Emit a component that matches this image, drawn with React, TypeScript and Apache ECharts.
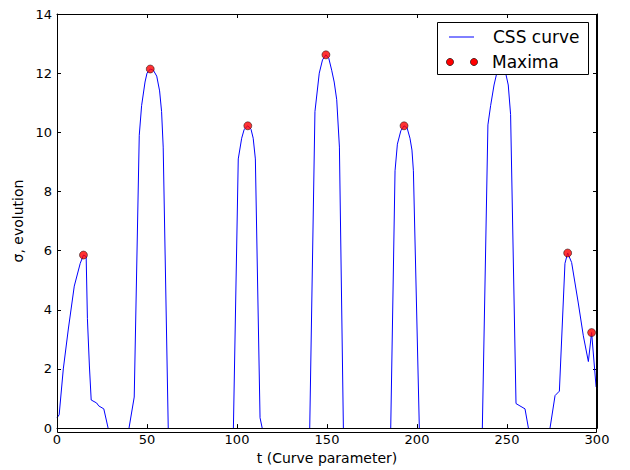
import React, { useEffect, useRef } from "react";
import * as echarts from "echarts";

// Curve parameter t and CSS evolution sigma (null = curve below zero / gap)
const tValues: number[] = [
  0, 1.2, 3.5, 6.3, 9.6, 12.9, 14.7, 16.2, 16.9, 18, 19, 22, 23.2, 26, 28.4, 34,
  40, 42.9, 45.7, 47, 48.9, 50, 51.8, 53.5, 55.4, 57, 58.1, 59, 61.8, 80,
  98, 100.7, 102.6, 104, 106, 107.8, 109, 110.2, 112.8, 114, 127,
  140.4, 143.3, 145.7, 147.5, 149.4, 151, 152.6, 154, 155.4, 156.9, 159.1, 172,
  185.4, 187.8, 189.1, 191, 192.8, 194.5, 196.1, 197.2, 198, 201.3, 218,
  236.3, 239.4, 240.9, 242.8, 244.5, 246.5, 247.8, 248.9, 250.7, 252, 255, 257.2, 260, 261.9, 268,
  273.9, 276.7, 279.1, 282.2, 283.7, 285.9, 289.6, 292.4, 295.2, 297, 299.5, 300,
];
const sigmaValues: (number | null)[] = [
  0.35, 0.45, 2.0, 3.35, 4.8, 5.57, 5.85, 5.8, 3.7, 2.1, 0.95, 0.85, 0.75, 0.65, 0, null,
  0, 1.05, 9.9, 10.9, 11.7, 12.0, 12.14, 12.1, 11.9, 11.4, 10.7, 9.5, 0, null,
  0, 9.1, 9.8, 10.1, 10.22, 10.1, 9.8, 9.1, 0.35, 0, null,
  0, 10.7, 12.0, 12.45, 12.62, 12.5, 12.1, 11.7, 11.1, 9.5, 0, null,
  0, 8.7, 9.6, 10.05, 10.22, 10.15, 9.8, 9.4, 8.7, 0, null,
  0, 10.25, 10.9, 11.6, 12.05, 12.25, 12.2, 12.1, 11.6, 10.6, 0.83, 0.75, 0.65, 0, null,
  0, 1.1, 1.25, 5.57, 5.92, 5.6, 4.23, 3.12, 2.25, 3.23, 1.39, 1.35,
];

// Local maxima
const maximaT: number[] = [14.7, 51.8, 106, 149.4, 192.8, 246.5, 283.7, 297];
const maximaSigma: number[] = [5.85, 12.14, 10.22, 12.62, 10.22, 12.25, 5.92, 3.23];

const curveName = "CSS curve";
const maximaName = "Maxima";
const xLabel = "t (Curve parameter)";
const yLabel = "σ, evolution";

const FONT = "DejaVu Sans";
const GRID = { left: 57, right: 33, top: 14, bottom: 37 };
const W = 630;
const H = 470;

export default function App() {
  const ref = useRef<HTMLDivElement>(null);
  useEffect(() => {
    if (!ref.current) return;
    const chart = echarts.init(ref.current, undefined, { renderer: "svg" });
    const curve = tValues.map((t, i) => [t, sigmaValues[i]]);
    const maxima = maximaT.map((t, i) => [t, maximaSigma[i]]);
    const axisLine = () => ({ show: true, onZero: false, lineStyle: { color: "#000", width: 1 } });
    const tick = () => ({ show: true, inside: true, length: 4, lineStyle: { color: "#000", width: 1 } });
    const Z = 100;
    chart.setOption({
      animation: false,
      backgroundColor: "#fff",
      grid: GRID,
      xAxis: [
        {
          type: "value",
          min: 0,
          max: 300,
          interval: 50,
          axisLine: axisLine(),
          axisTick: tick(),
          splitLine: { show: false },
          axisLabel: { color: "#000", fontFamily: FONT, fontSize: 13, margin: 5 },
          name: xLabel,
          nameLocation: "middle",
          nameGap: 21,
          nameTextStyle: { color: "#000", fontFamily: FONT, fontSize: 14 },
        },
        {
          type: "value",
          min: 0,
          max: 300,
          interval: 50,
          position: "top",
          axisLine: axisLine(),
          axisTick: tick(),
          splitLine: { show: false },
          axisLabel: { show: false },
        },
      ],
      yAxis: [
        {
          type: "value",
          min: 0,
          max: 14,
          interval: 2,
          axisLine: axisLine(),
          axisTick: tick(),
          splitLine: { show: false },
          axisLabel: { color: "#000", fontFamily: FONT, fontSize: 13, margin: 5 },
          name: yLabel,
          nameLocation: "middle",
          nameGap: 25,
          nameRotate: 90,
          nameTextStyle: { color: "#000", fontFamily: FONT, fontSize: 14 },
        },
        {
          type: "value",
          min: 0,
          max: 14,
          interval: 2,
          position: "right",
          axisLine: axisLine(),
          axisTick: tick(),
          splitLine: { show: false },
          axisLabel: { show: false },
        },
      ],
      series: [
        {
          name: curveName,
          type: "line",
          data: curve,
          showSymbol: false,
          symbol: "none",
          connectNulls: false,
          lineStyle: { color: "#0000ff", width: 1 },
          z: 2,
        },
        {
          name: maximaName,
          type: "scatter",
          xAxisIndex: 1,
          yAxisIndex: 1,
          data: maxima,
          symbol: "circle",
          symbolSize: 8,
          itemStyle: { color: "#ff0000", borderColor: "#000", borderWidth: 0.6 },
          z: 3,
        },
      ],
      graphic: [
        {
          type: "rect",
          z: Z - 1,
          silent: true,
          shape: {
            x: GRID.left + 0.5,
            y: GRID.top + 0.5,
            width: W - GRID.left - GRID.right - 1,
            height: H - GRID.top - GRID.bottom - 1,
          },
          style: { fill: "none", stroke: "#000", lineWidth: 1 },
        },
        {
          type: "rect",
          z: Z,
          shape: { x: 437.5, y: 22.5, width: 151, height: 52 },
          style: { fill: "#fff", stroke: "#000", lineWidth: 1 },
        },
        {
          type: "line",
          z: Z + 1,
          shape: { x1: 449, y1: 37, x2: 474, y2: 37 },
          style: { stroke: "#0000ff", lineWidth: 1 },
        },
        {
          type: "text",
          z: Z + 1,
          x: 493,
          y: 37,
          style: {
            text: curveName,
            fill: "#000",
            font: `17px "${FONT}"`,
            verticalAlign: "middle",
          },
        },
        {
          type: "circle",
          z: Z + 1,
          shape: { cx: 450, cy: 62, r: 3.6 },
          style: { fill: "#ff0000", stroke: "#000", lineWidth: 0.6 },
        },
        {
          type: "circle",
          z: Z + 1,
          shape: { cx: 474, cy: 62, r: 3.6 },
          style: { fill: "#ff0000", stroke: "#000", lineWidth: 0.6 },
        },
        {
          type: "text",
          z: Z + 1,
          x: 492,
          y: 62,
          style: {
            text: maximaName,
            fill: "#000",
            font: `17px "${FONT}"`,
            verticalAlign: "middle",
          },
        },
      ],
    });
    return () => chart.dispose();
  }, []);
  return (
    <div
      ref={ref}
      style={{ position: "fixed", left: 0, top: 0, width: W, height: H, background: "#fff" }}
    />
  );
}
